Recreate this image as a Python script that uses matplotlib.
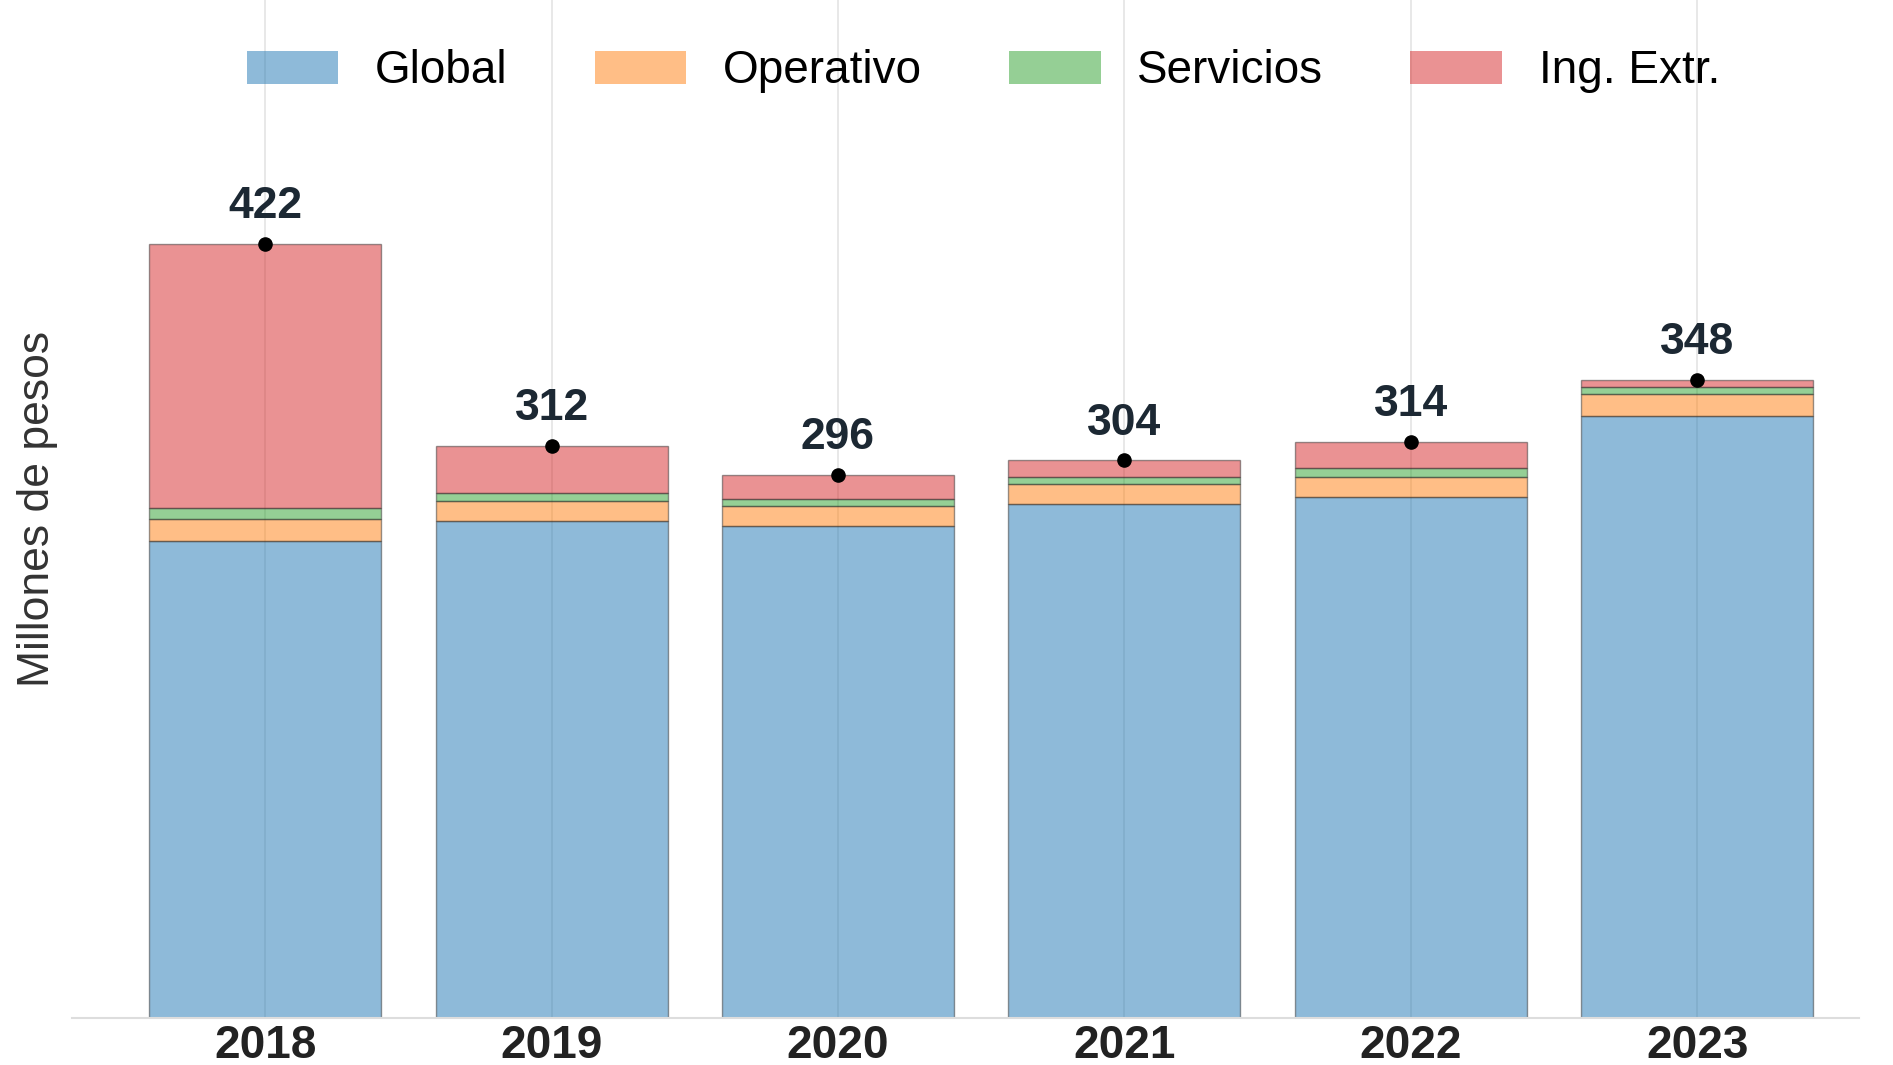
import numpy as np
import matplotlib
matplotlib.use("Agg")
import matplotlib.pyplot as plt

plt.rcParams['font.family'] = ['Liberation Sans', 'DejaVu Sans']

# datos (millones de pesos)
years = ["2018", "2019", "2020", "2021", "2022", "2023"]
global_ = [260, 271, 268, 280, 284, 328]
operativo = [12, 11, 11, 11, 11, 12]
servicios = [6, 4, 4, 4, 5, 4]
ing_extr = [144, 26, 13, 9, 14, 4]
totals = [422, 312, 296, 304, 314, 348]

series = [("Global", global_, "#1f77b4"),
          ("Operativo", operativo, "#ff7f0e"),
          ("Servicios", servicios, "#2ca02c"),
          ("Ing. Extr.", ing_extr, "#d62728")]

fig = plt.figure(figsize=(18.93, 10.65), dpi=100)
ax = fig.add_axes([0.038, 0.044, 0.944, 0.956])

x = np.arange(len(years))
bottom = np.zeros(len(years))
for name, vals, col in series:
    ax.bar(x, vals, 0.81, bottom=bottom, color=col, alpha=0.5,
           edgecolor="#333333", linewidth=1.0, label=name, zorder=2)
    bottom += np.array(vals)

# puntos y etiquetas de total
ax.scatter(x, totals, s=90, color="black", zorder=4)
for xi, t in zip(x, totals):
    ax.annotate(str(t), (xi, t), xytext=(0, 12), textcoords="offset points",
                ha="center", va="bottom", fontsize=32, fontweight="bold",
                color="#1c2833")

ax.set_xlim(-0.675, 5.565)
ax.set_ylim(0, 555)
ax.set_xticks(x)
ax.set_xticklabels(years, fontsize=33, fontweight="bold", color="#222222")
ax.tick_params(axis="x", length=0, pad=4)
ax.set_yticks([])
ax.set_ylabel("Millones de pesos", fontsize=32, color="#333333", labelpad=10)

ax.grid(axis="x", color="#e6e6e6", linewidth=1.3, zorder=0)
ax.set_axisbelow(True)
for s in ["top", "left", "right"]:
    ax.spines[s].set_visible(False)
ax.spines["bottom"].set_color("#dddddd")
ax.spines["bottom"].set_linewidth(1.5)

leg = ax.legend(loc="upper center", bbox_to_anchor=(0.51, 0.992), ncol=4,
                frameon=False, fontsize=33, handlelength=2.0, handleheight=0.75,
                columnspacing=1.9, handletextpad=0.8)
for h in leg.legend_handles:
    h.set_linewidth(0)

plt.savefig("out.png", dpi=100)
